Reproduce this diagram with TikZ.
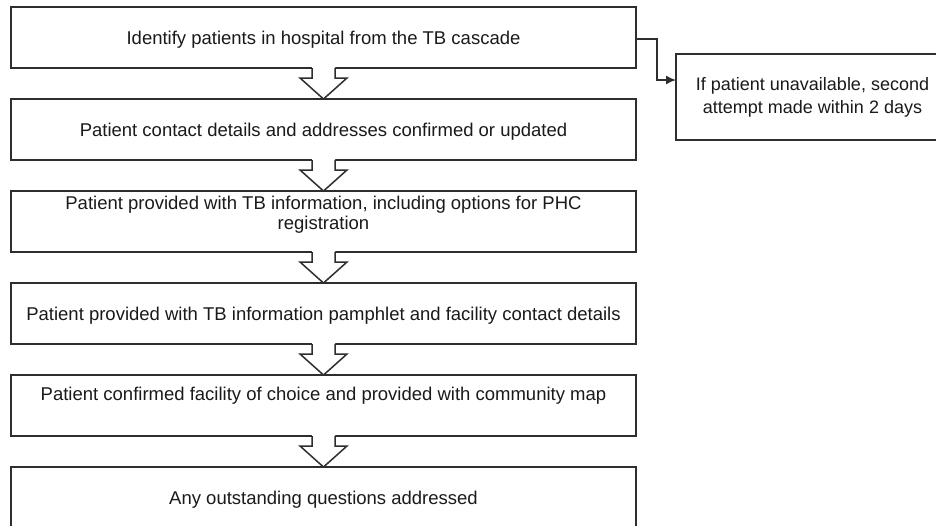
\documentclass[tikz,border=0pt]{standalone}
\usepackage{fontspec}
\setmainfont{Liberation Sans}
\usetikzlibrary{arrows.meta,calc}
\definecolor{lineg}{HTML}{2E2E2E}
\definecolor{textg}{HTML}{1A1A1A}
\tikzset{
  box/.style={draw=lineg, line width=1.5pt, minimum width=625pt, minimum height=61pt, inner sep=0pt, outer sep=0pt},
  txt/.style={font=\fontsize{18.5}{20}\selectfont, align=center, inner sep=0pt, text=textg, text height=13.3pt, text depth=0pt},
  multi/.style={text height=, text depth=},
  hol/.style={draw=lineg, line width=1.5pt, line join=miter},
  conn/.style={draw=lineg, line width=1.5pt, -{Latex[length=10pt,width=9pt]}},
}
\newcommand\hollowarrow[2]{%
  \fill[white] ($(#1.south)+(-11.5,-1.5)$) -- ++(0,11.5) -- ++(-12,0) -- (#2.north) -- ($(#1.south)+(23.5,10)$) -- ++(-12,0) -- ++(0,-11.5) -- cycle;
  \draw[hol] ($(#1.south)+(-11.5,0)$) -- ++(0,10) -- ++(-12,0) -- (#2.north) -- ($(#1.south)+(23.5,10)$) -- ++(-12,0) -- ++(0,-10);}
\begin{document}
\begin{tikzpicture}[x=1pt,y=-1pt]
\useasboundingbox (0,0) rectangle (936,525);
\clip (0,0) rectangle (936,525);
\fill[white] (0,0) rectangle (936,525);
% boxes
\node[box] (b1) at (323.5,37.5) {};
\node[box] (b2) at (323.5,129.5) {};
\node[box] (b3) at (323.5,221.5) {};
\node[box] (b4) at (323.5,313.5) {};
\node[box] (b5) at (323.5,405.5) {};
\node[box] (b6) at (323.5,497.5) {};
\node[box, minimum width=273pt, minimum height=86pt, txt, multi, font=\fontsize{18}{23}\selectfont] (r) at (812.5,97)
  {If patient unavailable, second\\attempt made within 2 days};
% texts
\node[txt] (t1) at (b1.center) {Identify patients in hospital from the TB cascade};
\node[txt] (t2) at (b2.center) {Patient contact details and addresses confirmed or updated};
\node[txt, multi] (t3) at ($(b3.center)+(0,-7)$) {Patient provided with TB information, including options for PHC\\registration};
\node[txt] (t4) at (b4.center) {Patient provided with TB information pamphlet and facility contact details};
\node[txt] (t5) at ($(b5.center)+(0,-11.5)$) {Patient confirmed facility of choice and provided with community map};
\node[txt] (t6) at (b6.center) {Any outstanding questions addressed};
% hollow arrows
\hollowarrow{b1}{b2}
\hollowarrow{b2}{b3}
\hollowarrow{b3}{b4}
\hollowarrow{b4}{b5}
\hollowarrow{b5}{b6}
% side connector
\coordinate (rin) at ($(r.west)+(0,-17)$);
\draw[conn] ($(b1.east)+(0,1.5)$) -- ++(21,0) |- (rin);
\end{tikzpicture}
\end{document}
